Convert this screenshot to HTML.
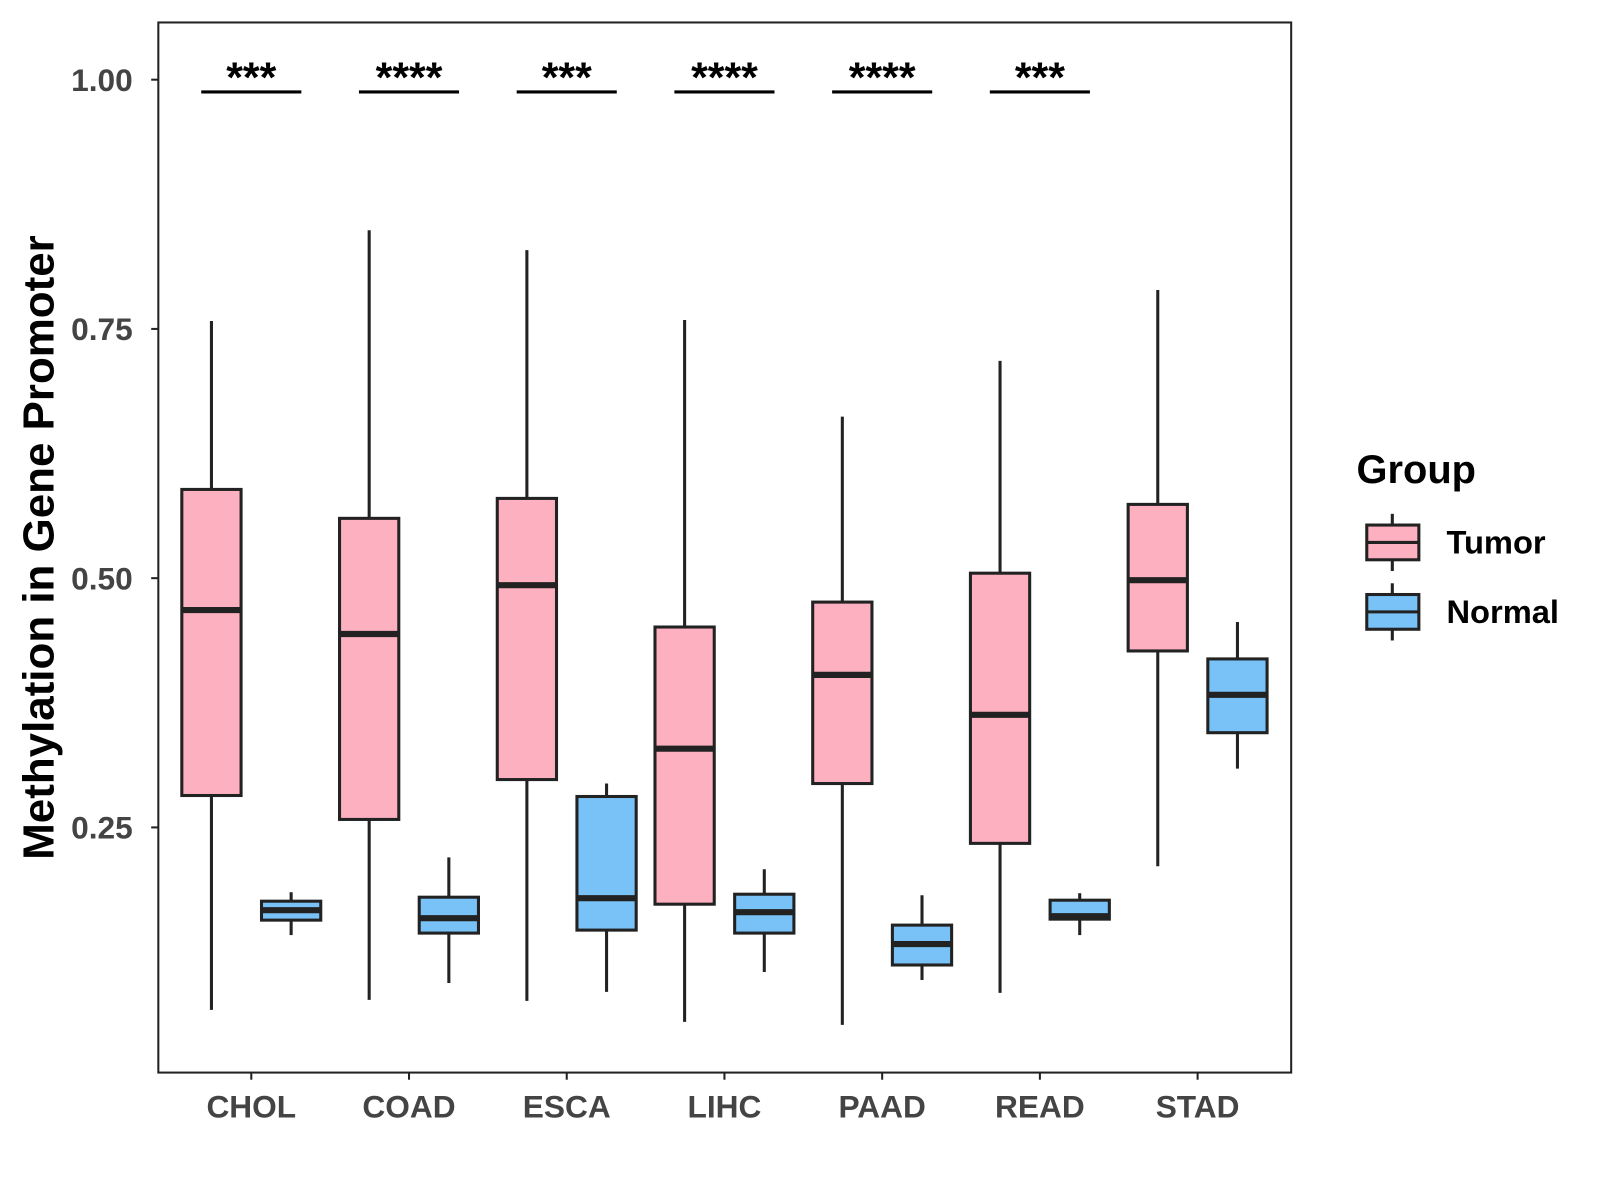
<!DOCTYPE html>
<html><head><meta charset="utf-8"><style>
html,body{margin:0;padding:0;background:#fff;}
svg{display:block;font-family:"Liberation Sans",Arial,sans-serif;}
</style></head><body>
<svg id="chart" width="1600" height="1200" viewBox="0 0 1600 1200">
<g transform="scale(1.0215)">
<rect x="155" y="22" width="1109" height="1028" fill="#fff" stroke="#222" stroke-width="2"/>
<g id="marks"></g>
<text x="38" y="536" transform="rotate(-90 38 536)" text-anchor="middle" dominant-baseline="central" font-size="43" font-weight="bold" fill="#000">Methylation in Gene Promoter</text>
<g>
<text x="1328" y="473" font-size="39" font-weight="bold" fill="#000">Group</text>
<g>
<line x1="1363" y1="503" x2="1363" y2="559" stroke="#222" stroke-width="3"/>
<rect x="1338" y="514" width="51" height="34" fill="#FDB0C0" stroke="#222" stroke-width="3"/>
<line x1="1338" y1="531" x2="1389" y2="531" stroke="#222" stroke-width="3"/>
<text x="1416" y="542" font-size="32" font-weight="bold" fill="#000">Tumor</text></g>
<g>
<line x1="1363" y1="571" x2="1363" y2="627" stroke="#222" stroke-width="3"/>
<rect x="1338" y="582" width="51" height="34" fill="#79C2F8" stroke="#222" stroke-width="3"/>
<line x1="1338" y1="599" x2="1389" y2="599" stroke="#222" stroke-width="3"/>
<text x="1416" y="610" font-size="32" font-weight="bold" fill="#000">Normal</text></g>
</g>
</g>
</svg>
<script>
const categories=["CHOL","COAD","ESCA","LIHC","PAAD","READ","STAD"];
const tumorLow=[0.067,0.077,0.076,0.055,0.052,0.084,0.211];
const tumorQ1=[0.282,0.258,0.298,0.173,0.294,0.234,0.427];
const tumorMed=[0.468,0.444,0.493,0.329,0.403,0.363,0.498];
const tumorQ3=[0.589,0.560,0.580,0.451,0.476,0.505,0.574];
const tumorHigh=[0.758,0.849,0.829,0.759,0.662,0.718,0.789];
const normalLow=[0.142,0.094,0.085,0.105,0.097,0.142,0.309];
const normalQ1=[0.157,0.144,0.147,0.144,0.112,0.158,0.345];
const normalMed=[0.167,0.159,0.179,0.165,0.133,0.161,0.383];
const normalQ3=[0.176,0.180,0.281,0.183,0.152,0.177,0.419];
const normalHigh=[0.185,0.220,0.294,0.208,0.182,0.184,0.456];
const signif=["***","****","***","****","****","***",""];
const yTicks=[0.25,0.50,0.75,1.00];
const yTickLabels=["0.25","0.50","0.75","1.00"];
const NS="http://www.w3.org/2000/svg";
const g=document.getElementById('marks');
function y(v){return 78+(1-v)*976;}
function x(i){return 246+i*154.4;}
function mk(t,a,parent){const e=document.createElementNS(NS,t);for(const k in a)e.setAttribute(k,a[k]);(parent||g).appendChild(e);return e;}
yTicks.forEach((v,i)=>{
  const t=mk('line',{x1:148,x2:155,y1:y(v),y2:y(v),stroke:'#222','stroke-width':2});
  
  
  const l=mk('text',{x:130,y:y(v)+11,'text-anchor':'end','font-size':31,'font-weight':'bold',fill:'#444'});
  l.textContent=yTickLabels[i];
  
  
});
function box(cx,lo,q1,md,q3,hi,fill,name){
  const gg=mk('g',{});
  
  
  mk('line',{x1:cx,x2:cx,y1:y(hi),y2:y(lo),stroke:'#222','stroke-width':3},gg);
  mk('rect',{x:cx-29,y:y(q3),width:58,height:y(q1)-y(q3),fill:fill,stroke:'#222','stroke-width':3},gg);
  mk('line',{x1:cx-29,x2:cx+29,y1:y(md),y2:y(md),stroke:'#222','stroke-width':6},gg);
}
categories.forEach((c,i)=>{
  const cx=x(i);
  box(cx-39,tumorLow[i],tumorQ1[i],tumorMed[i],tumorQ3[i],tumorHigh[i],'#FDB0C0','box-tumor-'+c.toLowerCase());
  box(cx+39,normalLow[i],normalQ1[i],normalMed[i],normalQ3[i],normalHigh[i],'#79C2F8','box-normal-'+c.toLowerCase());
  const tk=mk('line',{x1:cx,x2:cx,y1:1050,y2:1057,stroke:'#222','stroke-width':2});
  
  
  const l=mk('text',{x:cx,y:1094,'text-anchor':'middle','font-size':31,'font-weight':'bold',fill:'#444'});
  l.textContent=c;
  
  
  if(signif[i]){
    const b=mk('line',{x1:cx-49,x2:cx+49,y1:90,y2:90,stroke:'#000','stroke-width':3});
    
    
    const s=mk('text',{x:cx,y:90,'text-anchor':'middle','font-size':42,'font-weight':'bold',fill:'#000'});
    s.textContent=signif[i];
    
    
  }
});
</script>
</body></html>
